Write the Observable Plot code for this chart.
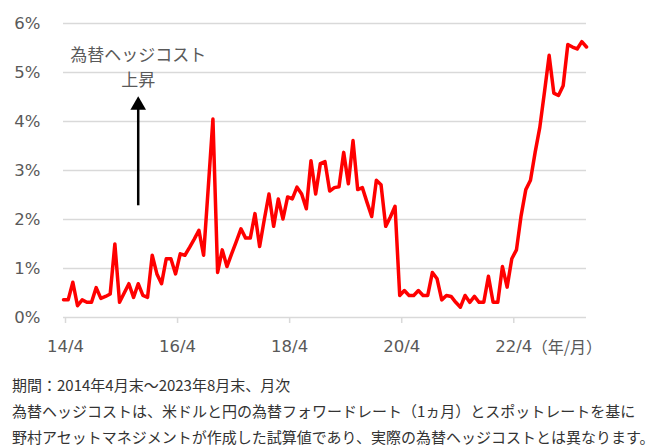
<!DOCTYPE html>
<html>
<head>
<meta charset="utf-8">
<script src="https://cdn.jsdelivr.net/npm/d3@7"></script>
<script src="https://cdn.jsdelivr.net/npm/@observablehq/plot@0.6"></script>
<style>
  html, body { margin: 0; padding: 0; background: #fff; }
  #wrap { width: 664px; height: 446px; overflow: hidden; position: relative; }
  #notes { position: absolute; left: 12px; top: 372px; font-family: "Noto Sans CJK JP", sans-serif; font-size: 15px; line-height: 26px; color: #333; white-space: nowrap; }
</style>
</head>
<body>
<div id="wrap">
  <div id="chart"></div>
  <div id="notes"></div>
</div>
<script>
// Monthly hedge cost (%), 2014/4 .. 2023/8
const hedgeCost = [
  0.36, 0.36, 0.72, 0.24, 0.36, 0.31, 0.31, 0.61, 0.39, 0.43, 0.48, 1.50,
  0.31, 0.50, 0.69, 0.41, 0.69, 0.45, 0.41, 1.27, 0.89, 0.69, 1.20, 1.20,
  0.89, 1.30, 1.27, 1.43, 1.60, 1.78, 1.27, 2.65, 4.05, 0.92, 1.38, 1.04,
  1.30, 1.55, 1.81, 1.62, 1.62, 2.12, 1.45, 2.00, 2.52, 1.86, 2.42, 2.01,
  2.46, 2.42, 2.66, 2.52, 2.22, 3.20, 2.52, 3.14, 3.18, 2.58, 2.65, 2.67,
  3.37, 2.73, 3.61, 2.61, 2.65, 2.35, 2.06, 2.80, 2.71, 1.86, 2.05, 2.27,
  0.45, 0.55, 0.45, 0.45, 0.55, 0.45, 0.45, 0.92, 0.79, 0.36, 0.45, 0.43,
  0.31, 0.21, 0.45, 0.31, 0.43, 0.31, 0.31, 0.84, 0.31, 0.31, 1.04, 0.62,
  1.20, 1.38, 2.08, 2.61, 2.80, 3.37, 3.88, 4.60, 5.35, 4.58, 4.53, 4.73,
  5.57, 5.52, 5.48, 5.63, 5.52
];
const xTickIndex = [0, 24, 48, 72, 96];
const xTickLabels = ["14/4", "16/4", "18/4", "20/4", "22/4"];
const xUnitLabel = ["（年/月）"];
const yTicks = [0, 1, 2, 3, 4, 5, 6];
const noteLines = ["為替ヘッジコスト", "上昇"];
const noteY = [5.35, 4.84];
const arrowX = [16];
const arrowFrom = [2.29];
const arrowTo = [4.27];
const arrowHead = [4.33];
const footnotes = [
  "期間：2014年4月末～2023年8月末、月次",
  "為替ヘッジコストは、米ドルと円の為替フォワードレート（1ヵ月）とスポットレートを基に",
  "野村アセットマネジメントが作成した試算値であり、実際の為替ヘッジコストとは異なります。"
];

const data = hedgeCost.map((v, i) => ({i, v}));

const chart = Plot.plot({
  width: 664,
  height: 362,
  marginLeft: 63,
  marginRight: 78,
  marginTop: 23,
  marginBottom: 45,
  style: {fontFamily: "DejaVu Sans, sans-serif", fontSize: "16px", background: "#fff", color: "#595959"},
  x: {domain: [0, 112]},
  y: {domain: [0, 6]},
  marks: [
    Plot.gridY(yTicks.filter(d => d > 0), {stroke: "#d9d9d9", strokeOpacity: 1, strokeWidth: 1.5}),
    Plot.ruleY([0], {stroke: "#d9d9d9", strokeWidth: 1.5}),
    Plot.axisY(yTicks, {tickSize: 0, tickPadding: 23, tickFormat: d => d + "%", fill: "#595959", fontSize: 16.5, label: null}),
    Plot.axisX(xTickIndex, {tickSize: 6, tickPadding: 17, stroke: "#d9d9d9", strokeWidth: 1.5, fill: "#595959",
      fontSize: 16.5, tickFormat: (d) => xTickLabels[xTickIndex.indexOf(d)], label: null, dx: 2}),
    Plot.text(xUnitLabel, {x: () => xTickIndex[4], y: () => 0, text: d => d, dx: 20, dy: 30, textAnchor: "start",
      lineAnchor: "middle", fill: "#595959", fontSize: 16, fontFamily: "Noto Sans CJK JP"}),
    Plot.line(data, {x: "i", y: "v", stroke: "#ff0000", strokeWidth: 3.5, strokeLinejoin: "round", strokeLinecap: "round"}),
    Plot.text(noteLines, {x: () => arrowX[0], y: (d, i) => noteY[i], text: d => d, fill: "#595959",
      fontSize: 17, fontFamily: "Noto Sans CJK JP", textAnchor: "middle", lineAnchor: "middle"}),
    Plot.link(arrowX, {x1: d => d, x2: d => d, y1: (d, i) => arrowFrom[i], y2: (d, i) => arrowTo[i], stroke: "#000", strokeWidth: 2.5}),
    Plot.dot(arrowX, {x: d => d, y: (d, i) => arrowHead[i], symbol: "triangle", r: 5.8, fill: "#000", stroke: null})
  ]
});
document.getElementById("chart").appendChild(chart);
const notes = document.getElementById("notes");
footnotes.forEach(t => { const d = document.createElement("div"); d.textContent = t; notes.appendChild(d); });
</script>
</body>
</html>
